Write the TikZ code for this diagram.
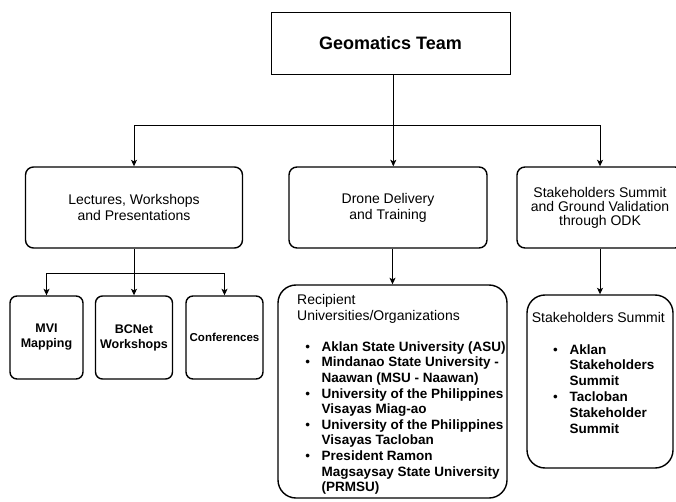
\documentclass[tikz,border=0pt]{standalone}
\usepackage{fontspec}
\setmainfont{Liberation Sans}
\usetikzlibrary{positioning, arrows.meta, calc}

\newcommand{\boxtitlefont}{\fontsize{14}{15.6}\selectfont\mdseries}

\begin{document}
\begin{tikzpicture}[
    x=1pt, y=-1pt,
    >={Stealth[length=6.5pt, width=6pt, inset=1.5pt]},
    teambox/.style={rectangle, draw, line width=0.9pt, minimum width=239pt, minimum height=62pt, font=\fontsize{18}{21}\selectfont\bfseries},
    groupbox/.style={rectangle, rounded corners=8pt, draw, line width=1.4pt, minimum height=81pt, align=center, font=\fontsize{14}{16}\selectfont},
    itembox/.style={rectangle, rounded corners=7pt, draw, line width=1.4pt, minimum height=83pt, align=center, font=\fontsize{12.5}{15}\selectfont\bfseries},
    listbox/.style={rectangle, rounded corners=18pt, draw, line width=1.4pt},
    listtext/.style={inner sep=0pt, font=\fontsize{13.5}{15.6}\selectfont},
    arrow/.style={->, line width=0.9pt},
    link/.style={line width=0.9pt}
]
\useasboundingbox (0,0) rectangle (676,502);

% Top level
\node[teambox] (team) at (390.5,43) {Geomatics Team};

% Activities
\node[groupbox, minimum width=217pt] (lectures) at (134,207.5) {Lectures, Workshops\\and Presentations};
\node[groupbox, minimum width=198pt] (drone) at (388,207.5) {Drone Delivery\\and Training};
\node[groupbox, minimum width=166pt, font=\fontsize{14}{14}\selectfont] (stake) at (600,207.5) {Stakeholders Summit\\and Ground Validation\\through ODK};

\coordinate (hub) at (393.3,125.7);
\draw[link] (team.south -| hub) -- (hub);
\draw[arrow] (hub) -| (lectures.north);
\draw[arrow] (hub) -- (hub |- drone.north);
\draw[arrow] (hub) -| (stake.north);

% Lectures breakdown
\node[itembox, minimum width=73pt] (mvi) at (46.5,337.5) {MVI\\Mapping};
\node[itembox, minimum width=77pt] (bcnet) at (134,337.5) {BCNet\\Workshops};
\node[itembox, minimum width=77pt, font=\fontsize{11.5}{14}\selectfont\bfseries] (conf) at (224.5,337.5) {Conferences};

\coordinate (lecsplit) at (134,273);
\draw[arrow] (lectures.south) -- (bcnet.north);
\draw[arrow] (lecsplit) -| (mvi.north);
\draw[arrow] (lecsplit) -| (conf.north);

% Drone recipients
\node[listbox, minimum width=229pt, minimum height=213pt] (recipients) at (392.5,391.5) {};
\node[listtext, below right=9.1pt and 19.7pt of recipients.north west] (recipientlist) {%
\begin{tabular}{@{\hspace{8.2pt}}l@{\hspace{11.6pt}}l@{}}
\multicolumn{2}{@{}l@{}}{\boxtitlefont Recipient}\\
\multicolumn{2}{@{}l@{}}{\boxtitlefont Universities/Organizations}\\
\\
\textbullet & \textbf{Aklan State University (ASU)}\\
\textbullet & \textbf{Mindanao State University -}\\
 & \textbf{Naawan (MSU - Naawan)}\\
\textbullet & \textbf{University of the Philippines}\\
 & \textbf{Visayas Miag-ao}\\
\textbullet & \textbf{University of the Philippines}\\
 & \textbf{Visayas Tacloban}\\
\textbullet & \textbf{President Ramon}\\
 & \textbf{Magsaysay State University}\\
 & \textbf{(PRMSU)}
\end{tabular}};
\draw[arrow] (drone.south -| recipients.north) -- (recipients.north);

% Stakeholders summits
\node[listbox, minimum width=146pt, minimum height=173pt] (summit) at (600,381.5) {};
\node[listtext, font=\fontsize{13.5}{15.8}\selectfont, below right=16.9pt and 5.3pt of summit.north west] (summitlist) {%
\begin{tabular}{@{\hspace{21.3pt}}l@{\hspace{11.7pt}}l@{}}
\multicolumn{2}{@{}l@{}}{\boxtitlefont Stakeholders Summit}\\
\\
\textbullet & \textbf{Aklan}\\
 & \textbf{Stakeholders}\\
 & \textbf{Summit}\\
\textbullet & \textbf{Tacloban}\\
 & \textbf{Stakeholder}\\
 & \textbf{Summit}
\end{tabular}};
\draw[arrow] (stake.south) -- (summit.north);

\end{tikzpicture}
\end{document}
